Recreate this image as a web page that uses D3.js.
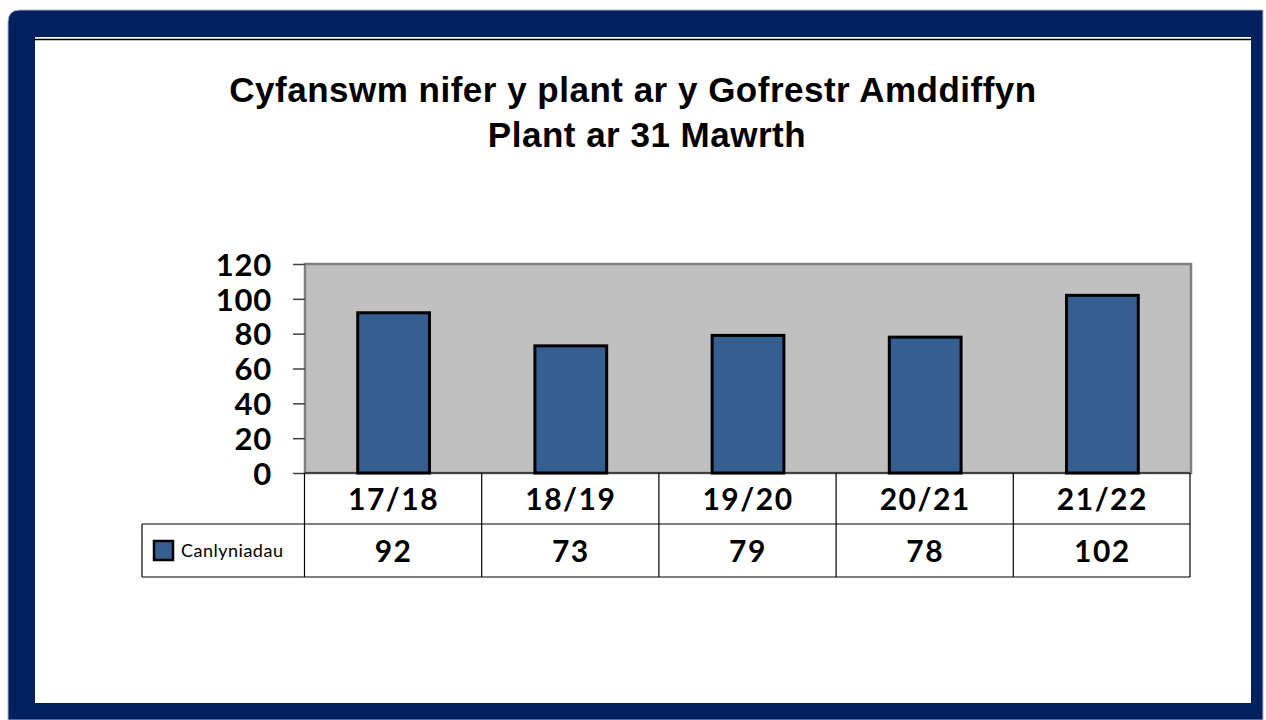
<!DOCTYPE html>
<html>
<head>
<meta charset="utf-8">
<script src="https://cdn.jsdelivr.net/npm/d3@7"></script>
<style>
  html, body { margin: 0; padding: 0; background: #fff; }
  svg { display: block; }
</style>
</head>
<body>
<svg id="chart" width="1266" height="720"></svg>
<script>
const titleLines = ['Cyfanswm nifer y plant ar y Gofrestr Amddiffyn', 'Plant ar 31 Mawrth'];
const years = ['17/18', '18/19', '19/20', '20/21', '21/22'];
const values = [92, 73, 79, 78, 102];
const seriesName = 'Canlyniadau';
const yTicks = [0, 20, 40, 60, 80, 100, 120];

const NAVY = '#002060';
const BAR = '#355f91';
const PLOT_BG = '#c0c0c0';

const svg = d3.select('#chart');

// frame
svg.append('path')
  .attr('d', 'M8,720 L8,22 Q8,10 20,10 L1263,10 L1263,720 Z')
  .attr('fill', NAVY)
  .attr('stroke', '#b0b4c0')
  .attr('stroke-width', 1);
svg.append('rect').attr('x', 35).attr('y', 37).attr('width', 1216).attr('height', 666).attr('fill', '#fff');
svg.append('line').attr('x1', 35).attr('x2', 1251).attr('y1', 39.5).attr('y2', 39.5)
  .attr('stroke', '#000').attr('stroke-width', 1.5);

// title
svg.append('g').selectAll('text')
  .data(titleLines)
  .join('text')
  .attr('x', (d, i) => i === 0 ? 633 : 647)
  .attr('y', (d, i) => 102 + i * 45)
  .attr('text-anchor', 'middle')
  .style('font-family', '"Liberation Sans", Arial, sans-serif')
  .style('font-weight', 'bold')
  .style('font-size', '35px')
  .style('letter-spacing', '0.5px')
  .style('fill', '#000')
  .text(d => d);

const plotL = 305, plotR = 1191, plotT = 264, plotB = 473;

const x = d3.scaleBand().domain(years).range([plotL, plotR]).padding(0);
const y = d3.scaleLinear().domain([0, 120]).range([plotB, plotT]);

// plot area
svg.append('rect')
  .attr('x', plotL).attr('y', plotT)
  .attr('width', plotR - plotL).attr('height', plotB - plotT)
  .attr('fill', PLOT_BG)
  .attr('stroke', '#808080')
  .attr('stroke-width', 2.5);

// y axis
const yAxis = svg.append('g')
  .attr('transform', `translate(${plotL},0)`)
  .call(d3.axisLeft(y).tickValues(yTicks).tickSize(12).tickPadding(21));
yAxis.select('.domain').remove();
yAxis.selectAll('.tick line').attr('stroke', '#404040').attr('stroke-width', 1.5);
yAxis.selectAll('.tick text')
  .style('font-family', 'Lato, "Open Sans", sans-serif')
  .style('font-weight', 'bold')
  .style('font-size', '31px')
  .style('letter-spacing', '0.8px')
  .attr('dy', '0.36em')
  .style('fill', '#000');

// bars
const bw = x.bandwidth() * 0.405;
svg.append('g').selectAll('rect')
  .data(values)
  .join('rect')
  .attr('x', (d, i) => x(years[i]) + x.bandwidth() / 2 - bw / 2)
  .attr('y', d => y(d))
  .attr('width', bw)
  .attr('height', d => y(0) - y(d))
  .attr('fill', BAR)
  .attr('stroke', '#000')
  .attr('stroke-width', 3);

// data table
const row1 = 524, row2 = 577, legLeft = 142;
const tbl = svg.append('g').attr('stroke', '#000').attr('stroke-width', 1.2);
tbl.append('line').attr('x1', plotL).attr('x2', plotR - 1).attr('y1', plotB).attr('y2', plotB);
tbl.append('line').attr('x1', legLeft).attr('x2', plotR - 1).attr('y1', row1).attr('y2', row1);
tbl.append('line').attr('x1', legLeft).attr('x2', plotR - 1).attr('y1', row2).attr('y2', row2);
tbl.append('line').attr('x1', legLeft).attr('x2', legLeft).attr('y1', row1).attr('y2', row2);
tbl.selectAll('.vline')
  .data(years.concat(['end']))
  .join('line')
  .attr('class', 'vline')
  .attr('x1', d => d === 'end' ? plotR - 1 : x(d) - 0.5)
  .attr('x2', d => d === 'end' ? plotR - 1 : x(d) - 0.5)
  .attr('y1', plotB)
  .attr('y2', row2);

const cellFont = sel => sel
  .attr('text-anchor', 'middle')
  .style('font-family', 'Lato, "Open Sans", sans-serif')
  .style('font-weight', 'bold')
  .style('font-size', '30px')
  .style('letter-spacing', '1.5px')
  .style('fill', '#000');

svg.append('g').selectAll('text')
  .data(years)
  .join('text')
  .attr('x', d => x(d) + x.bandwidth() / 2)
  .attr('y', 510)
  .call(cellFont)
  .text(d => d);

svg.append('g').selectAll('text')
  .data(values)
  .join('text')
  .attr('x', (d, i) => x(years[i]) + x.bandwidth() / 2)
  .attr('y', 562)
  .call(cellFont)
  .text(d => d);

// legend key
svg.append('rect')
  .attr('x', 154).attr('y', 541)
  .attr('width', 19).attr('height', 19)
  .attr('fill', BAR).attr('stroke', '#000').attr('stroke-width', 2.5);
svg.append('text')
  .attr('x', 181).attr('y', 557)
  .style('font-family', 'Lato, "Open Sans", sans-serif')
  .style('font-size', '18px')
  .style('letter-spacing', '0.5px')
  .style('fill', '#000')
  .text(seriesName);
</script>
</body>
</html>
